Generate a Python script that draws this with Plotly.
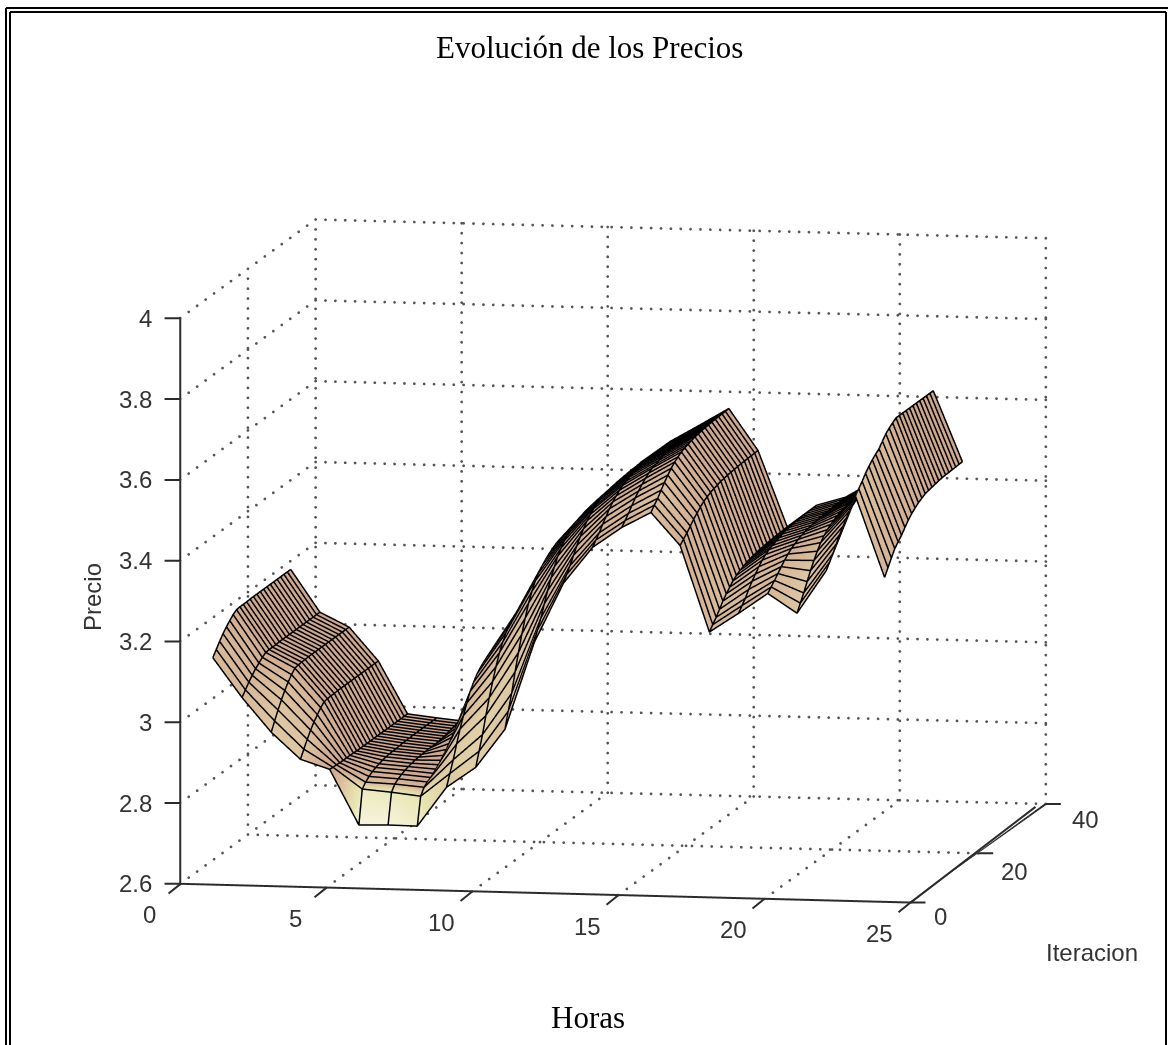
import numpy as np
import plotly.graph_objects as go

horas = list(range(1, 25))
iteraciones = list(range(1, 25))

# Precio por hora; cada lista da las iteraciones 1 a 24
p01 = [3.155, 3.169, 3.183, 3.196, 3.207, 3.216, 3.225, 3.231, 3.232, 3.232, 3.232, 3.233, 3.233, 3.233, 3.233, 3.233, 3.233, 3.233, 3.233, 3.233, 3.233, 3.233, 3.233, 3.233]
p02 = [3.058, 3.071, 3.084, 3.095, 3.105, 3.113, 3.121, 3.127, 3.128, 3.128, 3.128, 3.129, 3.129, 3.129, 3.129, 3.129, 3.129, 3.129, 3.129, 3.129, 3.129, 3.129, 3.129, 3.129]
p03 = [2.974, 2.996, 3.017, 3.036, 3.053, 3.068, 3.080, 3.090, 3.092, 3.093, 3.093, 3.094, 3.094, 3.094, 3.094, 3.094, 3.094, 3.094, 3.094, 3.094, 3.094, 3.094, 3.094, 3.094]
p04 = [2.909, 2.928, 2.946, 2.963, 2.977, 2.989, 3.000, 3.009, 3.010, 3.011, 3.011, 3.012, 3.012, 3.012, 3.012, 3.012, 3.012, 3.012, 3.012, 3.012, 3.012, 3.012, 3.012, 3.012]
p05 = [2.886, 2.885, 2.885, 2.884, 2.884, 2.884, 2.884, 2.884, 2.883, 2.883, 2.883, 2.883, 2.883, 2.883, 2.883, 2.883, 2.883, 2.883, 2.883, 2.883, 2.883, 2.883, 2.883, 2.883]
p06 = [2.750, 2.833, 2.844, 2.852, 2.858, 2.862, 2.865, 2.868, 2.870, 2.871, 2.872, 2.872, 2.873, 2.874, 2.874, 2.874, 2.875, 2.875, 2.875, 2.875, 2.875, 2.875, 2.875, 2.875]
p07 = [2.752, 2.827, 2.841, 2.848, 2.853, 2.857, 2.860, 2.862, 2.864, 2.865, 2.866, 2.866, 2.867, 2.867, 2.867, 2.868, 2.868, 2.868, 2.868, 2.868, 2.868, 2.868, 2.868, 2.868]
p08 = [2.751, 2.819, 2.835, 2.842, 2.847, 2.851, 2.855, 2.860, 2.865, 2.872, 2.882, 2.893, 2.905, 2.915, 2.925, 2.935, 2.945, 2.951, 2.956, 2.960, 2.964, 2.968, 2.972, 2.975]
p09 = [2.849, 2.877, 2.905, 2.938, 2.969, 2.996, 3.021, 3.044, 3.060, 3.074, 3.084, 3.092, 3.099, 3.105, 3.109, 3.113, 3.116, 3.118, 3.120, 3.121, 3.123, 3.124, 3.126, 3.127]
p10 = [2.900, 2.934, 2.969, 3.010, 3.048, 3.082, 3.113, 3.141, 3.161, 3.179, 3.191, 3.201, 3.210, 3.216, 3.222, 3.227, 3.230, 3.233, 3.235, 3.237, 3.239, 3.241, 3.242, 3.244]
p11 = [2.996, 3.035, 3.073, 3.120, 3.162, 3.201, 3.235, 3.266, 3.289, 3.309, 3.322, 3.334, 3.343, 3.351, 3.357, 3.363, 3.367, 3.369, 3.372, 3.374, 3.376, 3.378, 3.380, 3.382]
p12 = [3.212, 3.237, 3.261, 3.290, 3.317, 3.342, 3.364, 3.384, 3.398, 3.410, 3.419, 3.426, 3.433, 3.437, 3.441, 3.445, 3.447, 3.449, 3.451, 3.452, 3.453, 3.455, 3.456, 3.457]
p13 = [3.361, 3.377, 3.393, 3.412, 3.430, 3.446, 3.460, 3.473, 3.483, 3.491, 3.496, 3.501, 3.505, 3.508, 3.511, 3.513, 3.515, 3.516, 3.517, 3.518, 3.519, 3.519, 3.520, 3.521]
p14 = [3.452, 3.464, 3.476, 3.491, 3.504, 3.517, 3.528, 3.537, 3.545, 3.551, 3.555, 3.559, 3.562, 3.564, 3.566, 3.568, 3.569, 3.570, 3.571, 3.572, 3.572, 3.573, 3.573, 3.574]
p15 = [3.503, 3.514, 3.526, 3.539, 3.552, 3.563, 3.573, 3.582, 3.589, 3.595, 3.598, 3.602, 3.605, 3.607, 3.609, 3.610, 3.611, 3.612, 3.613, 3.614, 3.614, 3.615, 3.615, 3.616]
p16 = [3.542, 3.554, 3.565, 3.579, 3.592, 3.604, 3.615, 3.624, 3.631, 3.637, 3.641, 3.644, 3.647, 3.650, 3.651, 3.653, 3.654, 3.655, 3.656, 3.657, 3.657, 3.658, 3.658, 3.659]
p17 = [3.462, 3.472, 3.481, 3.492, 3.503, 3.512, 3.521, 3.529, 3.534, 3.539, 3.542, 3.545, 3.548, 3.549, 3.551, 3.552, 3.553, 3.554, 3.555, 3.555, 3.556, 3.556, 3.557, 3.557]
p18 = [3.250, 3.262, 3.274, 3.288, 3.302, 3.314, 3.324, 3.334, 3.341, 3.347, 3.351, 3.355, 3.358, 3.360, 3.362, 3.364, 3.365, 3.366, 3.367, 3.368, 3.368, 3.369, 3.369, 3.370]
p19 = [3.298, 3.311, 3.323, 3.339, 3.353, 3.365, 3.377, 3.387, 3.395, 3.401, 3.405, 3.409, 3.412, 3.415, 3.417, 3.419, 3.420, 3.421, 3.422, 3.422, 3.423, 3.424, 3.424, 3.425]
p20 = [3.349, 3.359, 3.369, 3.380, 3.391, 3.401, 3.410, 3.418, 3.423, 3.428, 3.432, 3.435, 3.437, 3.439, 3.441, 3.442, 3.443, 3.444, 3.444, 3.445, 3.446, 3.446, 3.447, 3.447]
p21 = [3.302, 3.321, 3.340, 3.362, 3.383, 3.402, 3.419, 3.434, 3.445, 3.454, 3.461, 3.466, 3.471, 3.475, 3.478, 3.481, 3.482, 3.484, 3.485, 3.486, 3.487, 3.488, 3.489, 3.490]
p22 = [3.409, 3.424, 3.439, 3.457, 3.474, 3.489, 3.503, 3.515, 3.524, 3.531, 3.537, 3.541, 3.545, 3.548, 3.550, 3.552, 3.554, 3.555, 3.556, 3.557, 3.558, 3.558, 3.559, 3.560]
p23 = [3.596, 3.608, 3.620, 3.634, 3.645, 3.655, 3.663, 3.670, 3.683, 3.695, 3.703, 3.710, 3.716, 3.716, 3.716, 3.716, 3.716, 3.716, 3.716, 3.716, 3.716, 3.716, 3.716, 3.716]
p24 = [3.396, 3.414, 3.432, 3.449, 3.460, 3.470, 3.483, 3.495, 3.505, 3.513, 3.520, 3.525, 3.530, 3.532, 3.534, 3.536, 3.538, 3.539, 3.540, 3.540, 3.541, 3.541, 3.542, 3.542]

por_hora = [p01, p02, p03, p04, p05, p06, p07, p08, p09, p10, p11, p12,
            p13, p14, p15, p16, p17, p18, p19, p20, p21, p22, p23, p24]
z = [list(fila) for fila in zip(*por_hora)]

x_ticks = [0, 5, 10, 15, 20, 25]
y_ticks = [0, 20, 40]
z_ticks = [2.6, 2.8, 3, 3.2, 3.4, 3.6, 3.8, 4]
z_labels = ["2.6", "2.8", "3", "3.2", "3.4", "3.6", "3.8", "4"]

INK = "#2b2b2b"
TICK_FONT = dict(family="Liberation Sans", size=24, color="#333333")

xmin, xmax = x_ticks[0], x_ticks[-1]
ymin, ymax = y_ticks[0], y_ticks[-1]
zmin, zmax = z_ticks[0], z_ticks[-1]

# Rejilla punteada: un punto cada ~10 px; se omiten las líneas que coinciden con los ejes
N_X, N_Y, N_Z = 74, 16, 57
gx, gy, gz = [], [], []
def dots(a, b, n):
    for i in range(n + 1):
        f = i / n
        gx.append(a[0] + (b[0] - a[0]) * f)
        gy.append(a[1] + (b[1] - a[1]) * f)
        gz.append(a[2] + (b[2] - a[2]) * f)

for t in x_ticks:
    if t != xmax:
        dots((t, ymin, zmin), (t, ymax, zmin), N_Y)
    dots((t, ymax, zmin), (t, ymax, zmax), N_Z)
for t in y_ticks:
    if t != ymin:
        dots((xmin, t, zmin), (xmax, t, zmin), N_X)
        dots((xmin, t, zmin), (xmin, t, zmax), N_Z)
for t in z_ticks:
    dots((xmin, ymin, t), (xmin, ymax, t), N_Y)
    dots((xmin, ymax, t), (xmax, ymax, t), N_X)

# Tono de cada vértice según la orientación de la superficie (como surfl con el mapa pink)
Z = np.array(z)
dz_dy, dz_dx = np.gradient(Z, np.array(iteraciones), np.array(horas))
nx, ny = -dz_dx * 405 / 29.5, -dz_dy * 405 / 18.2
norm = np.sqrt(nx ** 2 + ny ** 2 + 1)
nx, ny = nx / norm, ny / norm
tono = np.clip(0.25 + 0.9 * (-ny) - 0.05 * (-nx), 0, 1)

# Malla negra: una línea por iteración y una por hora, apenas adelantada hacia la cámara
DX, DY, DZ = 0.03, -0.25, 0.002
mx, my, mz = [], [], []
for j, it in enumerate(iteraciones):
    for h, v in zip(horas, z[j]):
        mx.append(h + DX); my.append(it + DY); mz.append(v + DZ)
    mx.append(None); my.append(None); mz.append(None)
for i, h in enumerate(horas):
    for it, v in zip(iteraciones, por_hora[i]):
        mx.append(h + DX); my.append(it + DY); mz.append(v + DZ)
    mx.append(None); my.append(None); mz.append(None)

fig = go.Figure()
fig.add_trace(go.Scatter3d(x=gx, y=gy, z=gz, mode="markers", showlegend=False, hoverinfo="skip",
                           marker=dict(color="#555555", size=1.6, line=dict(width=0))))
fig.add_trace(go.Scatter3d(x=[xmin, xmin, xmax, xmax], y=[ymin, ymin, ymin, ymax],
                           z=[zmax, zmin, zmin, zmin], mode="lines", showlegend=False,
                           hoverinfo="skip", line=dict(color=INK, width=4)))
fig.add_trace(go.Surface(
    x=horas, y=iteraciones, z=z, surfacecolor=tono, showscale=False, cmin=0, cmax=1,
    colorscale=[[0, "#b8907c"], [0.25, "#cda68e"], [0.4, "#d4b296"], [0.55, "#dcc4a0"],
                [0.7, "#e4d8a8"], [0.85, "#e9e6b4"], [1, "#f6f4dc"]],
    lighting=dict(ambient=1, diffuse=0, specular=0, roughness=1, fresnel=0),
    contours=dict(x=dict(show=False, highlight=False), y=dict(show=False, highlight=False),
                  z=dict(show=False, highlight=False)),
    hoverinfo="skip"))
fig.add_trace(go.Scatter3d(x=mx, y=my, z=mz, mode="lines", showlegend=False, hoverinfo="skip",
                           line=dict(color="black", width=3)))

def axis(rng, ticks):
    return dict(range=rng, tickmode="array", tickvals=ticks, title=dict(text=""),
                showticklabels=False, ticks="",
                showgrid=False, zeroline=False, showbackground=False, showspikes=False,
                showline=False)

def tick(px, py, pz, ax, ay):
    return dict(x=px, y=py, z=pz, text=" ", showarrow=True, arrowhead=0, arrowwidth=2,
                arrowcolor=INK, ax=ax, ay=ay)

def label(px, py, pz, text, dx, dy, anchor="center"):
    return dict(x=px, y=py, z=pz, text=text, showarrow=False, xshift=dx, yshift=-dy,
                xanchor=anchor, yanchor="middle", font=TICK_FONT)

notes = []
for t in x_ticks:
    notes.append(tick(t, ymin, zmin, -15, 12))
    notes.append(label(t, ymin, zmin, str(t), -31, 31))
y_off = {0: (30, 14), 20: (36, 18), 40: (40, 15)}
for t in y_ticks:
    notes.append(tick(xmax, t, zmin, 18, 0))
    notes.append(label(xmax, t, zmin, str(t), *y_off[t]))
for t, s in zip(z_ticks, z_labels):
    notes.append(tick(xmin, ymin, t, -19, 0))
    notes.append(label(xmin, ymin, t, s, -27, 0, anchor="right"))
# Tramo del eje de iteraciones que WebGL deja casi invisible cerca de la esquina frontal
notes.append(tick(xmax, ymin, zmin, 128, -98))

EYE = 3
fig.update_layout(
    width=1168, height=1045, margin=dict(l=0, r=0, t=0, b=0),
    paper_bgcolor="white", showlegend=False,
    scene=dict(
        domain=dict(x=[0.05, 1.0], y=[0.0, 0.926]),
        xaxis=axis([xmin, xmax], x_ticks),
        yaxis=axis([ymin, ymax], y_ticks),
        zaxis=axis([zmin, zmax], z_ticks),
        annotations=notes,
        aspectmode="manual", aspectratio=dict(x=1.535, y=1.516, z=1.18),
        camera=dict(projection=dict(type="orthographic"),
                    up=dict(x=0, y=0, z=1), center=dict(x=0, y=0, z=0),
                    eye=dict(x=0.1828 * EYE, y=-0.9737 * EYE, z=0.1367 * EYE))),
    annotations=[
        dict(text="Evolución de los Precios", x=589 / 1168, y=1 - 48 / 1045, xref="paper", yref="paper",
             xanchor="center", yanchor="middle", showarrow=False,
             font=dict(family="Liberation Serif", size=31, color="black")),
        dict(text="Horas", x=588 / 1168, y=1 - 1017 / 1045, xref="paper", yref="paper",
             xanchor="center", yanchor="middle", showarrow=False,
             font=dict(family="Liberation Serif", size=31, color="black")),
        dict(text="Precio", x=92 / 1168, y=1 - 597 / 1045, xref="paper", yref="paper", textangle=-90,
             xanchor="center", yanchor="middle", showarrow=False,
             font=dict(family="Liberation Sans", size=24, color="#333333")),
        dict(text="Iteracion", x=1092 / 1168, y=1 - 952 / 1045, xref="paper", yref="paper",
             xanchor="center", yanchor="middle", showarrow=False,
             font=dict(family="Liberation Sans", size=24, color="#333333")),
    ],
    shapes=[
        dict(type="line", xref="paper", yref="paper", x0=6 / 1168, x1=6 / 1168, y0=0, y1=1 - 8 / 1045,
             line=dict(color="black", width=2)),
        dict(type="line", xref="paper", yref="paper", x0=10 / 1168, x1=10 / 1168, y0=0, y1=1 - 12 / 1045,
             line=dict(color="black", width=2)),
        dict(type="line", xref="paper", yref="paper", x0=6 / 1168, x1=1, y0=1 - 8 / 1045, y1=1 - 8 / 1045,
             line=dict(color="black", width=2)),
        dict(type="line", xref="paper", yref="paper", x0=10 / 1168, x1=1166 / 1168, y0=1 - 12 / 1045, y1=1 - 12 / 1045,
             line=dict(color="black", width=2)),
        dict(type="line", xref="paper", yref="paper", x0=1166 / 1168, x1=1166 / 1168, y0=0, y1=1 - 12 / 1045,
             line=dict(color="black", width=2)),
    ],
)

fig.write_html("out.html", config={"displayModeBar": False}, post_script="document.body.style.margin='0';")
